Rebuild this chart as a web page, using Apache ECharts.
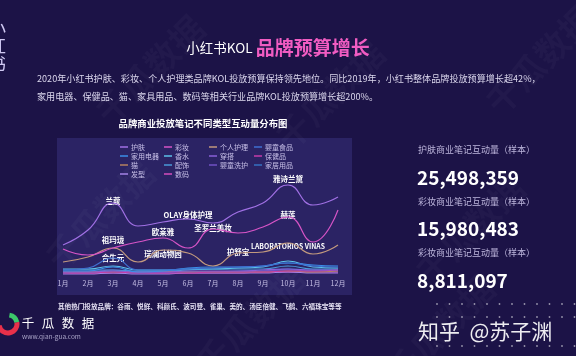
<!DOCTYPE html>
<html>
<head>
<meta charset="utf-8">
<script src="https://cdn.jsdelivr.net/npm/echarts@6/dist/echarts.min.js"></script>
<style>
html,body{margin:0;padding:0;background:#1c1347;}
#chart{width:576px;height:356px;}
</style>
</head>
<body>
<div id="chart"></div>
<script>
// ---------- data ----------
const months = ['1月','2月','3月','4月','5月','6月','7月','8月','9月','10月','11月','12月'];

const skincare      = [30, 45, 72, 49, 53, 56, 52, 63, 72, 90, 70, 78];   // 护肤
const makeup        = [26, 20, 27, 33, 37, 27, 46, 42, 48, 58, 33, 65];   // 彩妆
const personalCare  = [13, 18, 27, 13, 25, 22,  9, 22, 23, 32, 21, 30];   // 个人护理
const babyFood      = [ 5,  7, 17,  5,  5,  6,  7,  8,  9, 12,  9,  8];   // 婴童食品
const appliances    = [ 4,  4,  8,  3,  4,  7,  8,  8,  9, 12, 10,  9];   // 家用电器
const perfume       = [ 6,  6,  9,  5,  5,  6,  6,  7,  8, 14,  8,  7];   // 香水
const outfits       = [ 3,  3,  4,  3,  3,  4,  4,  4,  5,  6,  5,  5];   // 穿搭
const healthCare    = [ 2,  2,  3,  2,  2,  2,  3,  3,  3,  4,  4,  5];   // 保健品
const cats          = [ 3,  3,  3,  3,  4,  3,  3,  3,  3,  4,  3,  4];   // 猫
const accessories   = [ 5,  5,  5,  4,  4,  5,  6,  6,  6,  9,  6,  6];   // 配饰
const babyCare      = [ 3,  3,  5,  3,  3,  3,  3,  3,  4,  5,  4,  4];   // 婴童洗护
const homeGoods     = [ 2,  3,  3,  2,  3,  3,  3,  4,  4,  6,  5,  5];   // 家居用品
const hair          = [ 1,  1,  2,  1,  1,  2,  2,  2,  2,  3,  2,  2];   // 发型
const digital       = [ 2,  2,  2,  2,  2,  2,  2,  2,  3,  3,  3,  3];   // 数码

const seriesNames = ['护肤','彩妆','个人护理','婴童食品','家用电器','香水','穿搭','保健品','猫','配饰','婴童洗护','家居用品','发型','数码'];
const seriesValues = [skincare, makeup, personalCare, babyFood, appliances, perfume, outfits, healthCare, cats, accessories, babyCare, homeGoods, hair, digital];

// brand annotations: [name, month index, value]
const brandNotes = [
  ['兰蔻', 2.0, 74], ['雅诗兰黛', 8.6, 96], ['OLAY身体护理', 5.2, 60], ['欧莱雅', 3.96, 43],
  ['圣罗兰美妆', 6.12, 47], ['赫莲', 8.88, 60], ['祖玛珑', 1.96, 35], ['合生元', 1.96, 17],
  ['瑞澜动物园', 3.96, 21], ['护舒宝', 6.92, 23], ['LABORATORIOS VINAS', 9.16, 29]
];

const statLabels = ['护肤商业笔记互动量（样本）', '彩妆商业笔记互动量（样本）', '彩妆商业笔记互动量（样本）'];
const statValues = ['25,498,359', '15,980,483', '8,811,097'];

// ---------- styles ----------
const colors = ['#a070e4','#d654c6','#c39a7e','#3f6fd0','#3b8ee8','#5cc2ea','#8a60d8','#c63caa','#b58260','#4a9ad8','#7252c4','#3672c2','#a584e6','#d64ebc'];
const FONT = '"Noto Sans CJK SC", "Noto Sans", sans-serif';

const chart = echarts.init(document.getElementById('chart'), null, {renderer: 'canvas'});

const series = seriesNames.map((name, i) => ({
  name: name,
  type: 'line',
  data: seriesValues[i],
  smooth: 0.5,
  showSymbol: false,
  color: colors[i],
  lineStyle: {width: 1.2, color: colors[i]},
  z: 20 - i
}));
series[0].markPoint = {
  symbol: 'circle', symbolSize: 0, silent: true,
  label: {show: true, position: 'inside', color: '#ffffff', fontFamily: FONT, fontWeight: 'bold', fontSize: 7.5,
          formatter: p => p.name},
  data: brandNotes.map(b => ({name: b[0], coord: [b[1], b[2]],
    label: b[0].length > 10 ? {fontSize: 6.8} : {}}))
};

const legendCommon = {
  orient: 'vertical', top: 143, padding: 0, itemGap: 1, itemWidth: 8, itemHeight: 1.5, icon: 'rect',
  textStyle: {color: '#c8c0e8', fontSize: 7, lineHeight: 8, fontFamily: FONT, padding: [0,0,0,-2]}
};
const legendCols = [
  ['护肤','家用电器','猫','发型'], ['彩妆','香水','配饰','数码'],
  ['个人护理','穿搭','婴童洗护'], ['婴童食品','保健品','家居用品']
];
const legendLefts = [120, 164, 209, 254];

const graphics = [];
// chart panel
graphics.push({type: 'rect', z: -10, shape: {x: 57, y: 138, width: 295, height: 157}, style: {fill: '#2b2364'}});
// faint watermarks
[[150, 70], [330, 95], [100, 215], [470, 230], [250, 320], [540, 60], [440, 330]].forEach(p => {
  graphics.push({type: 'text', z: -5, x: p[0], y: p[1], rotation: Math.PI / 4,
    style: {text: '千瓜数据', fill: 'rgba(255,255,255,0.028)', font: 'bold 34px ' + FONT, align: 'center', verticalAlign: 'middle'}});
});
// vertical cut-off text at left edge
['小','红','书'].forEach((c, i) => {
  graphics.push({type: 'text', x: -3, y: 28 + i * 18,
    style: {text: c, fill: '#cfc8f2', font: '18px ' + FONT, align: 'center', verticalAlign: 'middle'}});
});
// title
graphics.push({type: 'text', x: 278, y: 48,
  style: {text: '{a|小红书KOL }{b|品牌预算增长}', align: 'center', verticalAlign: 'middle',
    rich: {a: {fill: '#ffffff', fontSize: 13.5, fontFamily: FONT}, b: {fill: '#f15cc2', fontSize: 19, fontWeight: 'bold', fontFamily: FONT}}}});
// paragraph
graphics.push({type: 'text', x: 37, y: 79,
  style: {text: '2020年小红书护肤、彩妆、个人护理类品牌KOL投放预算保持领先地位。同比2019年，小红书整体品牌投放预算增长超42%，',
    fill: '#dcd8ee', font: '9.1px ' + FONT, verticalAlign: 'middle'}});
graphics.push({type: 'text', x: 37, y: 97,
  style: {text: '家用电器、保健品、猫、家具用品、数码等相关行业品牌KOL投放预算增长超200%。',
    fill: '#dcd8ee', font: '9.1px ' + FONT, verticalAlign: 'middle'}});
// chart title
graphics.push({type: 'text', x: 203, y: 123,
  style: {text: '品牌商业投放笔记不同类型互动量分布图', fill: '#ffffff', font: 'bold 9.4px ' + FONT, align: 'center', verticalAlign: 'middle'}});
// right stats
const statLabelY = [150, 202, 253], statValueY = [178, 229, 281];
statLabels.forEach((t, i) => {
  graphics.push({type: 'text', x: 418, y: statLabelY[i],
    style: {text: t, fill: '#bdb6dc', font: '9px ' + FONT, verticalAlign: 'middle'}});
  graphics.push({type: 'text', x: 417, y: statValueY[i],
    style: {text: statValues[i], fill: '#ffffff', font: 'bold 19px ' + FONT, verticalAlign: 'middle'}});
});
// footer
graphics.push({type: 'text', x: 58, y: 306,
  style: {text: '其他热门投放品牌：谷雨、悦鲜、科颜氏、波司登、雀巢、美的、汤臣倍健、飞鹤、六福珠宝等等',
    fill: '#e6e2f4', font: 'bold 6.6px ' + FONT, verticalAlign: 'middle'}});
// logo
graphics.push({type: 'arc', shape: {cx: 8, cy: 324, r: 9, startAngle: -0.2, endAngle: Math.PI * 0.95},
  style: {stroke: '#e8304a', lineWidth: 5, fill: null}});
graphics.push({type: 'arc', shape: {cx: 8, cy: 324, r: 9, startAngle: -Math.PI * 0.45, endAngle: -0.2},
  style: {stroke: '#3cc86a', lineWidth: 5, fill: null}});
['千','瓜','数','据'].forEach((c, i) => {
  graphics.push({type: 'text', x: 28 + i * 20, y: 323,
    style: {text: c, fill: '#ffffff', font: '12.5px ' + FONT, align: 'center', verticalAlign: 'middle'}});
});
graphics.push({type: 'text', x: 22, y: 337,
  style: {text: 'www.qian-gua.com', fill: '#a9a4c8', font: '6.5px ' + FONT, verticalAlign: 'middle'}});
// zhihu watermark and dots
[304, 317, 346].forEach(y => {
  for (let x = 437; x < 576; x += 12.5) {
    graphics.push({type: 'circle', shape: {cx: x, cy: y, r: 0.9}, style: {fill: 'rgba(255,255,255,0.55)'}});
  }
});
graphics.push({type: 'text', x: 418, y: 331,
  style: {text: '知乎  @苏子渊', fill: 'rgba(255,255,255,0.92)', font: '21px ' + FONT, verticalAlign: 'middle'}});

const option = {
  backgroundColor: '#1c1347',
  animation: false,
  textStyle: {fontFamily: FONT},
  grid: {left: 63, right: 238, top: 175, bottom: 81, containLabel: false},
  legend: legendCols.map((d, i) => Object.assign({}, legendCommon, {data: d, left: legendLefts[i]})),
  xAxis: {
    type: 'category', data: months, boundaryGap: false,
    axisLine: {show: false}, axisTick: {show: false}, splitLine: {show: false},
    axisLabel: {color: '#c4bde4', fontSize: 7, margin: 5, fontFamily: FONT}
  },
  yAxis: {type: 'value', min: 0, max: 100, show: false, splitLine: {show: false}},
  series: series,
  graphic: {elements: graphics}
};
chart.setOption(option);
</script>
</body>
</html>
